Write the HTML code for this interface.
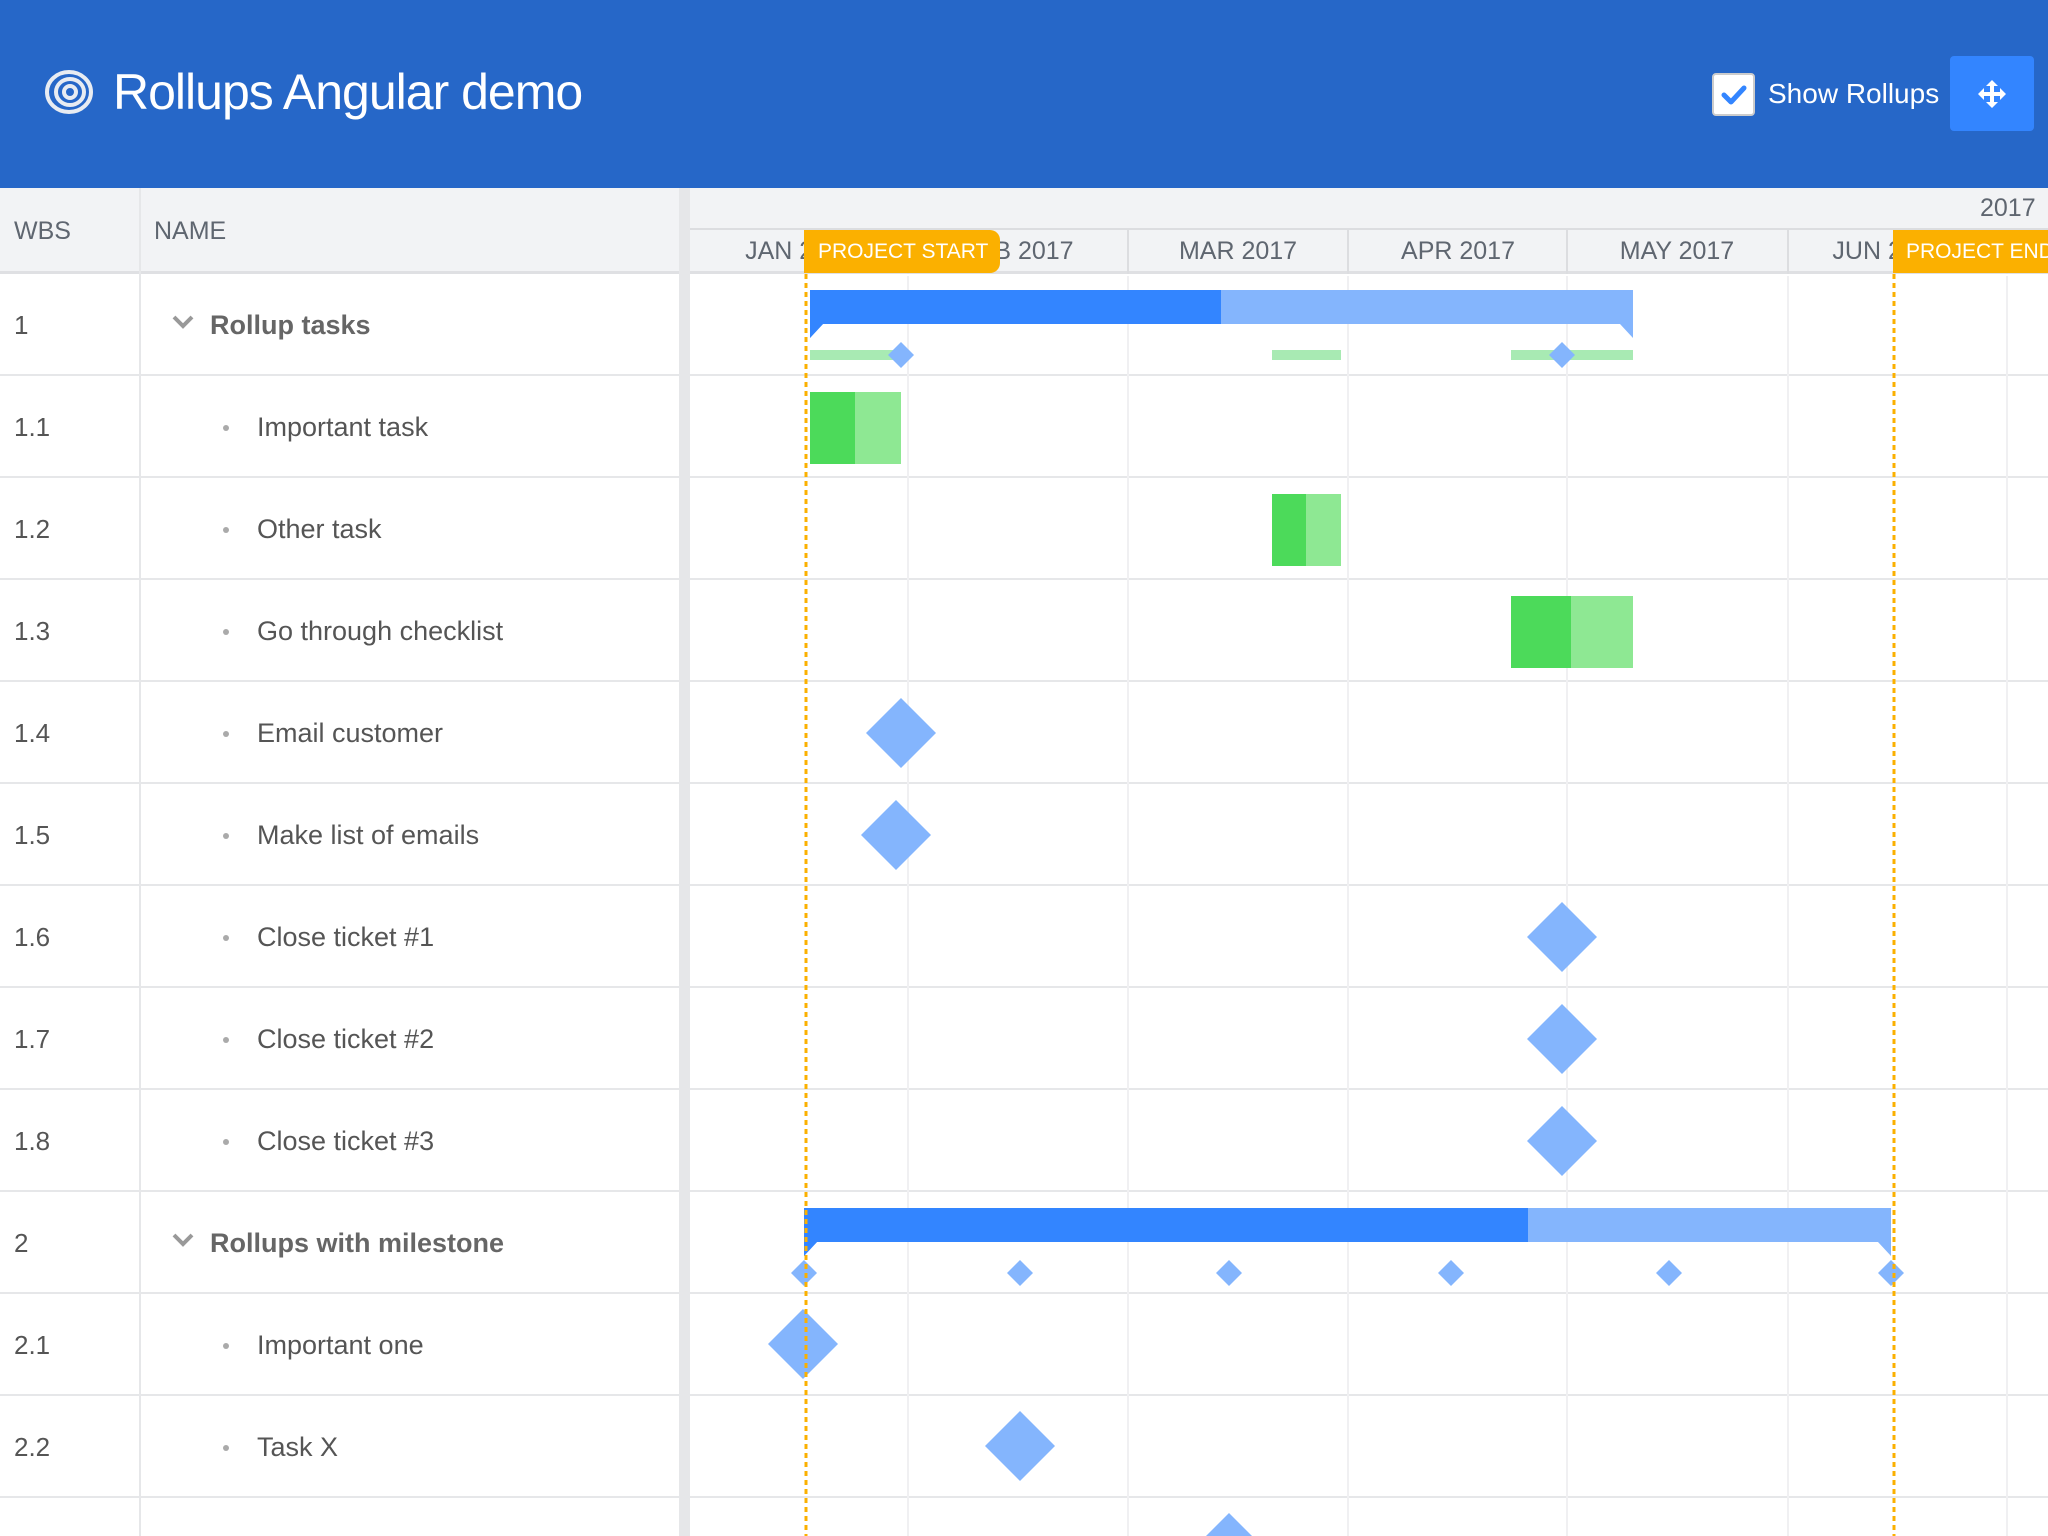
<!DOCTYPE html>
<html><head><meta charset="utf-8"><style>
*{margin:0;padding:0;box-sizing:border-box}
html,body{width:2048px;height:1536px;overflow:hidden}
body{background:#fff;font-family:"Liberation Sans",sans-serif;position:relative}
.a{position:absolute}
.hdr{left:0;top:0;width:2048px;height:188px;background:#2667c8}
.row{position:absolute;left:0;width:2048px;height:102px;border-bottom:2px solid #e6e7e9}
.wbs{position:absolute;left:14px;font-size:26px;color:#555;line-height:102px}
.nm{position:absolute;left:257px;font-size:27px;color:#555;line-height:102px}
.dot{position:absolute;left:223px;top:49px;width:6px;height:6px;border-radius:3px;background:#aaa}
.grp{position:absolute;left:210px;font-size:27px;color:#666;font-weight:bold;line-height:102px}
.mon{position:absolute;top:229px;height:45px;line-height:45px;font-size:25px;color:#5f6670;text-align:center;width:220px}
</style></head><body>
<div class="a hdr"></div>
<svg class="a" style="left:40px;top:64px" width="56" height="56" viewBox="0 0 56 56">
<g fill="none" stroke="#e8ecf2" stroke-width="4"><ellipse cx="29" cy="28" rx="22" ry="20"/><ellipse cx="30" cy="28" rx="14" ry="13"/><ellipse cx="30" cy="28" rx="6" ry="6"/></g></svg>
<div class="a" style="left:113px;top:60px;font-size:50px;color:#fff;line-height:64px;letter-spacing:-1px">Rollups Angular demo</div>
<div class="a" style="left:1712px;top:73px;width:43px;height:43px;background:#fff;border-radius:4px;border:2px solid #ccc"></div>
<svg class="a" style="left:1719px;top:80px" width="30" height="30"><path d="M5 15 L12 22 L25 8" stroke="#3385ff" stroke-width="5" fill="none" stroke-linecap="round" stroke-linejoin="round"/></svg>
<div class="a" style="left:1768px;top:76px;font-size:28px;color:#fff;line-height:36px">Show Rollups</div>
<div class="a" style="left:1950px;top:56px;width:84px;height:75px;background:#3385ff;border-radius:4px"></div>
<svg class="a" style="left:1978px;top:80px" width="28" height="28" viewBox="0 0 28 28" fill="#fff"><path d="M14 0 L20 6 H16 V12 H22 V8 L28 14 L22 20 V16 H16 V22 H20 L14 28 L8 22 H12 V16 H6 V20 L0 14 L6 8 V12 H12 V6 H8 Z"/></svg>
<div class="a" style="left:0;top:188px;width:2048px;height:86px;background:#f2f3f5;border-bottom:3px solid #dfe0e3"></div>
<div class="a" style="left:139px;top:188px;width:2px;height:1348px;background:#e6e7e9"></div>
<div class="a" style="left:14px;top:188px;line-height:86px;font-size:25px;color:#5f6670">WBS</div>
<div class="a" style="left:154px;top:188px;line-height:86px;font-size:25px;color:#5f6670">NAME</div>
<div class="row" style="top:274px"><span class="wbs">1</span><span class="grp">Rollup tasks</span></div>
<div class="row" style="top:376px"><span class="wbs">1.1</span><i class="dot"></i><span class="nm">Important task</span></div>
<div class="row" style="top:478px"><span class="wbs">1.2</span><i class="dot"></i><span class="nm">Other task</span></div>
<div class="row" style="top:580px"><span class="wbs">1.3</span><i class="dot"></i><span class="nm">Go through checklist</span></div>
<div class="row" style="top:682px"><span class="wbs">1.4</span><i class="dot"></i><span class="nm">Email customer</span></div>
<div class="row" style="top:784px"><span class="wbs">1.5</span><i class="dot"></i><span class="nm">Make list of emails</span></div>
<div class="row" style="top:886px"><span class="wbs">1.6</span><i class="dot"></i><span class="nm">Close ticket #1</span></div>
<div class="row" style="top:988px"><span class="wbs">1.7</span><i class="dot"></i><span class="nm">Close ticket #2</span></div>
<div class="row" style="top:1090px"><span class="wbs">1.8</span><i class="dot"></i><span class="nm">Close ticket #3</span></div>
<div class="row" style="top:1192px"><span class="wbs">2</span><span class="grp">Rollups with milestone</span></div>
<div class="row" style="top:1294px"><span class="wbs">2.1</span><i class="dot"></i><span class="nm">Important one</span></div>
<div class="row" style="top:1396px"><span class="wbs">2.2</span><i class="dot"></i><span class="nm">Task X</span></div>
<svg class="a" style="left:0;top:274px" width="690" height="1262">
<path d="M174 43 L183 52 L192 43" stroke="#999" stroke-width="4" fill="none"/>
<path d="M174 961 L183 970 L192 961" stroke="#999" stroke-width="4" fill="none"/>
</svg>
<div class="a" style="left:679px;top:188px;width:11px;height:1348px;background:#e6e7e9"></div>
<div class="a" style="left:690px;top:188px;width:1358px;height:86px;background:#f2f3f5;border-bottom:3px solid #dfe0e3"></div>
<div class="a" style="left:690px;top:228px;width:1358px;height:2px;background:#dcdde0"></div>
<div class="a" style="left:1980px;top:188px;line-height:40px;font-size:25px;color:#5f6670">2017</div>
<div class="mon" style="left:690px">JAN 2017</div>
<div class="mon" style="left:908px">FEB 2017</div>
<div class="mon" style="left:1128px">MAR 2017</div>
<div class="mon" style="left:1348px">APR 2017</div>
<div class="mon" style="left:1567px">MAY 2017</div>
<div class="mon" style="left:1778px">JUN 2017</div>
<svg class="a" style="left:0;top:188px" width="2048" height="1348">
<g stroke="#dcdde0" stroke-width="2"><line x1="908" y1="41" x2="908" y2="86"/><line x1="1128" y1="41" x2="1128" y2="86"/><line x1="1348" y1="41" x2="1348" y2="86"/><line x1="1567" y1="41" x2="1567" y2="86"/><line x1="1788" y1="41" x2="1788" y2="86"/><line x1="2007" y1="41" x2="2007" y2="86"/></g>
<g stroke="#f0f0f2" stroke-width="2"><line x1="908" y1="88" x2="908" y2="1348"/><line x1="1128" y1="88" x2="1128" y2="1348"/><line x1="1348" y1="88" x2="1348" y2="1348"/><line x1="1567" y1="88" x2="1567" y2="1348"/><line x1="1788" y1="88" x2="1788" y2="1348"/><line x1="2007" y1="88" x2="2007" y2="1348"/></g>
</svg>
<svg class="a" style="left:0;top:0" width="2048" height="1536">
<path d="M810 290 H1633 V338 L1620 324 H823 L810 338 Z" fill="#84b5fd"/>
<path d="M810 290 H1221 V324 H823 L810 338 Z" fill="#3385ff"/>
<g fill="#a8eab3"><rect x="810" y="350" width="91" height="10"/><rect x="1272" y="350" width="69" height="10"/><rect x="1511" y="350" width="122" height="10"/></g>
<g fill="#84b5fd"><path d="M901 342 L914 355 L901 368 L888 355Z"/><path d="M1562 342 L1575 355 L1562 368 L1549 355Z"/></g>
<rect x="810" y="392" width="91" height="72" fill="#8ee893"/><rect x="810" y="392" width="45" height="72" fill="#4cda5a"/>
<rect x="1272" y="494" width="69" height="72" fill="#8ee893"/><rect x="1272" y="494" width="34" height="72" fill="#4cda5a"/>
<rect x="1511" y="596" width="122" height="72" fill="#8ee893"/><rect x="1511" y="596" width="60" height="72" fill="#4cda5a"/>
<g fill="#84b5fd">
<path d="M901 698 L936 733 L901 768 L866 733Z"/>
<path d="M896 800 L931 835 L896 870 L861 835Z"/>
<path d="M1562 902 L1597 937 L1562 972 L1527 937Z"/>
<path d="M1562 1004 L1597 1039 L1562 1074 L1527 1039Z"/>
<path d="M1562 1106 L1597 1141 L1562 1176 L1527 1141Z"/>
<path d="M803 1309 L838 1344 L803 1379 L768 1344Z"/>
<path d="M1020 1411 L1055 1446 L1020 1481 L985 1446Z"/>
<path d="M1229 1513 L1264 1548 L1229 1583 L1194 1548Z"/>
</g>
<path d="M804 1208 H1891 V1256 L1878 1242 H817 L804 1256 Z" fill="#84b5fd"/>
<path d="M804 1208 H1528 V1242 H817 L804 1256 Z" fill="#3385ff"/>
<g fill="#84b5fd">
<path d="M804 1260 L817 1273 L804 1286 L791 1273Z"/><path d="M1020 1260 L1033 1273 L1020 1286 L1007 1273Z"/><path d="M1229 1260 L1242 1273 L1229 1286 L1216 1273Z"/><path d="M1451 1260 L1464 1273 L1451 1286 L1438 1273Z"/><path d="M1669 1260 L1682 1273 L1669 1286 L1656 1273Z"/><path d="M1891 1260 L1904 1273 L1891 1286 L1878 1273Z"/>
</g>
<g stroke="#fbb000" stroke-width="3" stroke-dasharray="5,4"><line x1="806" y1="274" x2="806" y2="1536"/><line x1="1894" y1="274" x2="1894" y2="1536"/></g>
</svg>
<div class="a" style="left:804px;top:230px;width:196px;height:43px;background:#fbb000;border-radius:0 10px 10px 0;color:#fff;font-size:21px;line-height:43px;padding-left:14px;white-space:nowrap;overflow:hidden">PROJECT START</div>
<div class="a" style="left:1893px;top:230px;width:155px;height:43px;background:#fbb000;color:#fff;font-size:21px;line-height:43px;padding-left:13px;white-space:nowrap;overflow:hidden">PROJECT END</div>
</body></html>
